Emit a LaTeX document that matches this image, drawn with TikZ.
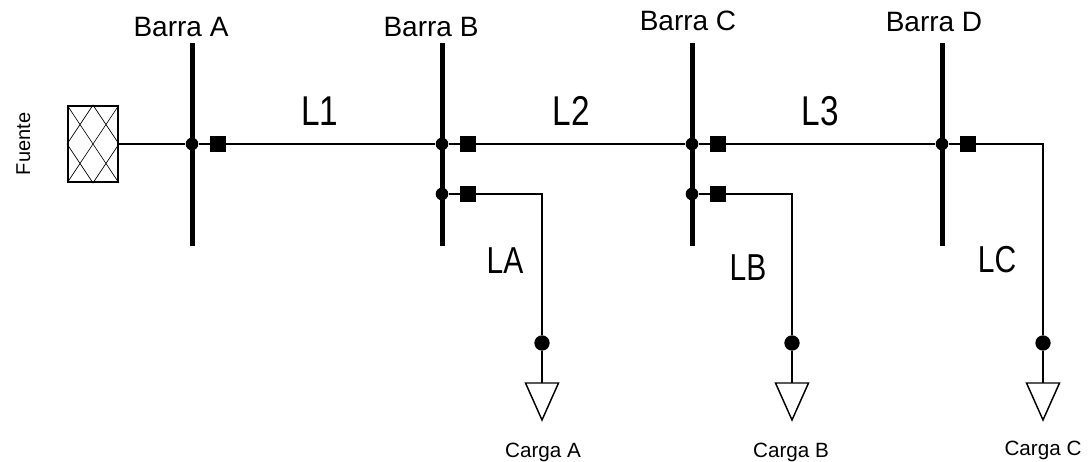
\documentclass[tikz,border=0pt]{standalone}
\usepackage{fontspec}
\setmainfont{Liberation Sans}
\usetikzlibrary{calc}

\newcommand{\alto}[1]{\scalebox{1}[1.25]{#1}}

\tikzset{
	barra/.style={rectangle, fill, inner sep=0pt, minimum width=3.75pt, minimum height=152pt},
	linea/.style={line width=1.1pt},
	nudo/.style={circle, fill, inner sep=0pt, minimum size=9.5pt},
	nudocarga/.style={circle, fill, inner sep=0pt, minimum width=11.5pt, minimum height=10.5pt},
	interruptor/.style={rectangle, fill, inner sep=0pt, minimum size=12pt},
	rotulo/.style={anchor=base, inner sep=0pt, font=\fontsize{21}{24}\selectfont},
	tramo/.style={anchor=base, inner sep=0pt, font=\fontsize{25}{28}\selectfont},
	carga/.style={anchor=base, inner sep=0pt, font=\fontsize{15.5}{18}\selectfont}
}

\begin{document}
\begin{tikzpicture}[x=0.75pt, y=-0.75pt]
	\useasboundingbox (0,0) rectangle (1091,461);
%	fuente
	\node[rotate=90, anchor=base, inner sep=0pt, font=\fontsize{15}{18}\selectfont] (fuente) at (30,144) {Fuente};
	\node[draw, line width=1.4pt, inner sep=0pt, minimum width=37.5pt, minimum height=57pt] (gen) at (93,144) {};
	\draw[line width=0.5pt] (gen.north west) -- (gen.south east) (gen.north east) -- (gen.south west);
	\draw[line width=0.5pt] (gen.north) -- (gen.west) -- (gen.south) -- (gen.east) -- cycle;
%	barras
	\foreach \n/\x in {A/192, B/442, C/692, D/942} {
		\node[barra] (b\n) at (\x,144.5) {};
		\node[nudo] (n\n) at (\x,144) {};
		\node[interruptor] (i\n) at (\x+26,144) {};
	}
	\node[nudo] (nB2) at (442,194) {};
	\node[interruptor] (iB2) at (468,194) {};
	\node[nudo] (nC2) at (692,194) {};
	\node[interruptor] (iC2) at (718,194) {};
%	cargas
	\node[nudocarga] (dA) at (542,343) {};
	\node[nudocarga] (dB) at (792,343) {};
	\node[nudocarga] (dC) at (1043,343) {};
	\coordinate (cA) at (542,383);
	\coordinate (cB) at (792,383);
	\coordinate (cC) at (1043,383);
%	lineas
	\draw[linea] (gen.east) -- (nA) -- (iA) -- (nB) -- (iB) -- (nC) -- (iC) -- (nD) -- (iD) -| (dC);
	\draw[linea] (nB2) -- (iB2) -| (dA);
	\draw[linea] (nC2) -- (iC2) -| (dB);
	\foreach \c in {A, B, C} {
		\draw[linea] (d\c) -- (c\c);
		\draw[linea] (c\c) -- ++(-16.5,0) -- ++(16.5,37) -- ++(16.5,-37) -- cycle;
	}
%	textos
	\node[rotulo] (tA) at (181,36) {Barra A};
	\node[rotulo] (tB) at (431,36) {Barra B};
	\node[rotulo] (tC) at (688,30) {Barra C};
	\node[rotulo] (tD) at (934,31) {Barra D};
	\node[tramo] (L1) at (320,125) {\alto{L1}};
	\node[tramo] (L2) at (571,125) {\alto{L2}};
	\node[tramo] (L3) at (820,125) {\alto{L3}};
	\node[tramo, font=\fontsize{22.5}{26}\selectfont] (LA) at (505,273) {\alto{LA}};
	\node[tramo, font=\fontsize{22.5}{26}\selectfont] (LB) at (748,280) {\alto{LB}};
	\node[tramo, font=\fontsize{22.5}{26}\selectfont] (LC) at (997,272) {\alto{LC}};
	\node[carga] (gA) at (543,457) {Carga A};
	\node[carga] (gB) at (791,457) {Carga B};
	\node[carga] (gC) at (1043,455) {Carga C};
\end{tikzpicture}
\end{document}
